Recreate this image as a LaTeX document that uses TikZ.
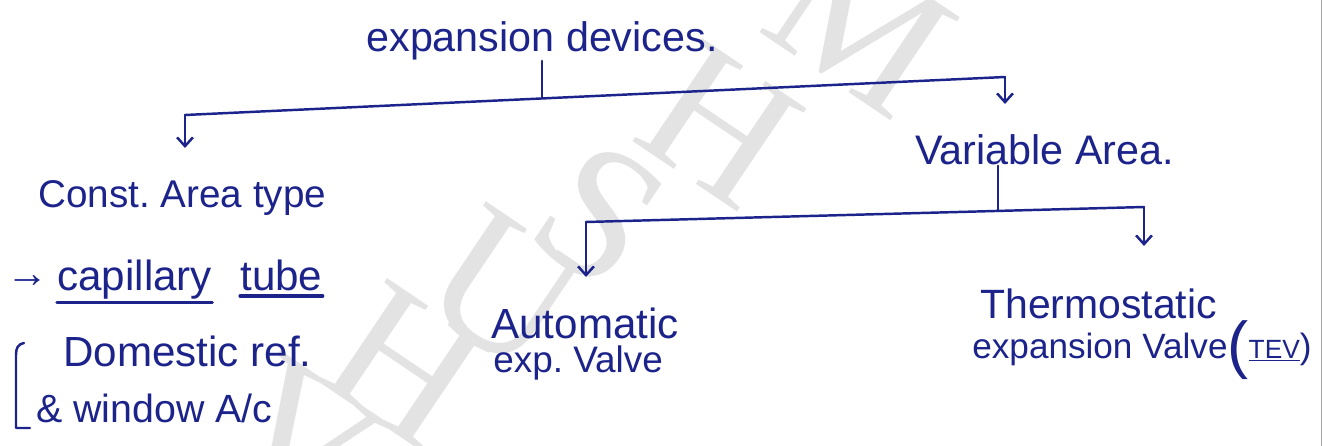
\documentclass[tikz,border=0pt]{standalone}
\usepackage{fontspec}
\setmainfont{Liberation Sans}
\newfontfamily\wmfont{Liberation Serif}
\usetikzlibrary{arrows.meta}
\definecolor{ink}{RGB}{28,36,140}
\definecolor{wmgray}{RGB}{227,227,227}

\begin{document}
\frenchspacing
\begin{tikzpicture}[x=0.02cm,y=-0.02cm,
  hw/.style={text=ink, inner sep=0pt, font=\fontsize{#1}{#1}\selectfont},
  hw/.default=23,
  inkline/.style={draw=ink, line width=1.4pt, line cap=round, line join=round},
  arr/.style={inkline, -{Straight Barb[length=5pt,width=9pt]}},
  wm/.style={text=wmgray, inner sep=0pt, font=\wmfont\fontsize{108}{108}\selectfont, rotate=-34}]

\useasboundingbox (0,0) rectangle (1323,446);
\fill[white] (0,0) rectangle (1323,446);

% faint diagonal watermark
\begin{scope}
  \clip (0,0) rectangle (1323,446);
  \node[wm] (wmA) at (300,440) {V};
  \node[wm] (wmB) at (405,365) {H};
  \node[wm] (wmC) at (505,290) {U};
  \node[wm] (wmD) at (600,215) {S};
  \node[wm] (wmE) at (720,125) {H};
  \node[wm] (wmF) at (860,25) {M};
\end{scope}

% page edge
\draw[gray!70, line width=0.8pt] (1321.5,0) -- (1321.5,446);

% root and first split
\node[hw=23.5, anchor=base] (root) at (542,52) {expansion devices.};
\coordinate (bL) at (185,115);
\coordinate (bR) at (1005,77);
\coordinate (bM) at (542,98);
\draw[inkline] (bL) -- (bR);
\draw[inkline] (root.south) -- (bM);
\coordinate (aL) at (185,148);
\coordinate (aR) at (1005,104);
\draw[arr] (bL) -- (aL);
\draw[arr] (bR) -- (aR);

\node[hw=22, anchor=base west] (const) at (38,208) {Const. Area type};
\node[hw=23.5, anchor=base west] (var) at (915,165) {Variable Area.};

% second split
\coordinate (cM) at (998,211);
\coordinate (cL) at (586,222);
\coordinate (cR) at (1144,207);
\draw[inkline] (var.south -| cM) -- (cM);
\draw[inkline] (cL) -- (cR);
\coordinate (dL) at (586,277);
\coordinate (dR) at (1144,246);
\draw[arr] (cL) -- (dL);
\draw[arr] (cR) -- (dR);

% constant area branch
\node[hw=24, anchor=west] (bul) at (6,282) {→};
\node[hw=24, anchor=base west] (capw) at (57,290) {capillary};
\node[hw=24, anchor=base west] (tubew) at (240,290) {tube};
\draw[inkline, line width=1.8pt] ([yshift=-2pt]capw.south west) -- ([yshift=-2pt]capw.south east);
\draw[inkline, line width=1.8pt] ([yshift=-3pt]tubew.south west) -- ([yshift=-3pt]tubew.south east);
\node[hw=24, anchor=base west] (dom) at (63,366) {Domestic ref.};
\node[hw=22.4, anchor=base west] (win) at (36,422) {\& window A/c};
\draw[inkline] (24,343) .. controls (18,344) and (16,348) .. (16,355) -- (16,428) -- (30,428);

% variable area branch
\node[hw=24, anchor=base west] (auto1) at (491,338) {Automatic};
\node[hw=21, anchor=base west] (auto2) at (493,372) {exp. Valve};
\node[hw=23.3, anchor=base west] (th1) at (980,318) {Thermostatic};
\node[hw=20, anchor=base west] (th2) at (972,358)
  {expansion Valve\raisebox{-5pt}{\fontsize{36}{36}\selectfont(}{\fontsize{15}{15}\selectfont\underline{TEV}})};

\end{tikzpicture}
\end{document}
